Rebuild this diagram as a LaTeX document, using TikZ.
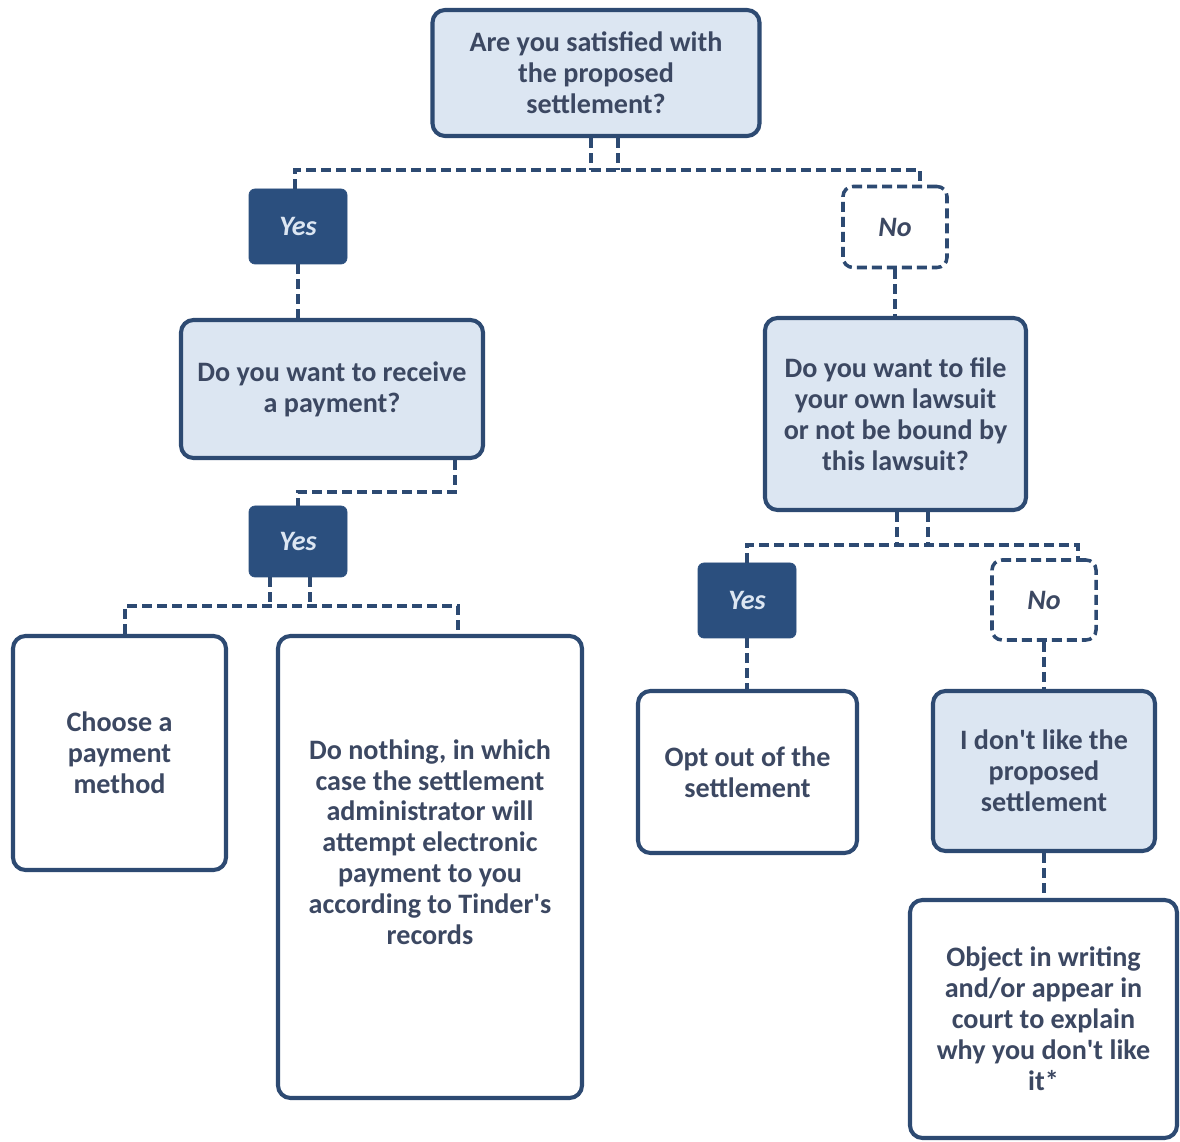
\documentclass[tikz,border=0pt]{standalone}
\usepackage{fontspec}
\setmainfont{Carlito}
\definecolor{cadre}{RGB}{45,74,114}
\definecolor{fond}{RGB}{220,230,242}
\definecolor{sombre}{RGB}{43,79,126}
\definecolor{texte}{RGB}{60,72,98}

\begin{document}
\begin{tikzpicture}
\tikzset{boite/.style={draw=cadre, line width=2.3pt, rounded corners=0.25cm, align=center, text=texte, font=\fontsize{16}{17.6}\selectfont\bfseries},
question/.style={boite, fill=fond},
reponse/.style={boite, fill=white},
oui/.style={draw=sombre, fill=sombre, rounded corners=0.12cm, text=fond, font=\fontsize{16}{17.6}\selectfont\bfseries\itshape, minimum width=1.96cm, minimum height=1.5cm},
non/.style={draw=cadre, line width=2pt, dash pattern=on 0.2cm off 0.1cm, rounded corners=0.2cm, fill=white, text=texte, font=\fontsize{16}{17.6}\selectfont\bfseries\itshape, minimum width=2.08cm, minimum height=1.62cm},
lien/.style={draw=cadre, line width=2pt, dash pattern=on 0.2cm off 0.1cm}}
\useasboundingbox (0,0) rectangle (23.6,-22.84);
\node[question, minimum width=6.54cm, minimum height=2.52cm] (Q1) at (11.92,-1.46) {Are you satisfied with\\the proposed\\settlement?};
\node[oui] (Y1) at (5.96,-4.53) {Yes};
\node[non] (N1) at (17.9,-4.54) {No};
\node[question, minimum width=6.04cm, minimum height=2.76cm] (Q2) at (6.64,-7.78) {Do you want to receive\\a payment?};
\node[oui, minimum height=1.42cm] (Y2) at (5.96,-10.83) {Yes};
\node[reponse, minimum width=4.26cm, minimum height=4.68cm] (A1) at (2.39,-15.06) {Choose a\\payment\\method};
\node[reponse, minimum width=6.08cm, minimum height=9.24cm, text depth=1cm] (A2) at (8.6,-17.34) {Do nothing, in which\\case the settlement\\administrator will\\attempt electronic\\payment to you\\according to Tinder\textquotesingle s\\records};
\node[question, minimum width=5.22cm, minimum height=3.84cm] (Q3) at (17.91,-8.28) {Do you want to file\\your own lawsuit\\or not be bound by\\this lawsuit?};
\node[oui] (Y3) at (14.94,-12.01) {Yes};
\node[non, minimum height=1.6cm] (N2) at (20.88,-12.0) {No};
\node[reponse, minimum width=4.38cm, minimum height=3.24cm] (B1) at (14.95,-15.44) {Opt out of the\\settlement};
\node[question, minimum width=4.44cm, minimum height=3.2cm] (Q4) at (20.88,-15.42) {I don\textquotesingle t like the\\proposed\\settlement};
\node[reponse, minimum width=5.34cm, minimum height=4.76cm] (B2) at (20.87,-20.38) {Object in writing\\and/or appear in\\court to explain\\why you don\textquotesingle t like\\it*};
\coordinate (H1) at (5.9,-3.4);
\coordinate (H2) at (18.4,-3.4);
\coordinate (D1) at (11.82,-3.4);
\coordinate (D2) at (12.36,-3.4);
\draw[lien] (Y1.north -| H1) -- (H1) -- (H2) -- (N1.north -| H2);
\draw[lien] (Q1.south -| D1) -- (D1);
\draw[lien] (Q1.south -| D2) -- (D2);
\draw[lien] (Y1.south) -- (Y1.south |- Q2.north);
\coordinate (E1) at (9.1,-9.84);
\draw[lien] (Q2.south -| E1) -- (E1) -- (E1 -| Y2.north) -- (Y2.north);
\coordinate (H3) at (2.5,-12.12);
\coordinate (H4) at (9.16,-12.12);
\coordinate (D3) at (5.4,-12.12);
\coordinate (D4) at (6.2,-12.12);
\draw[lien] (A1.north -| H3) -- (H3) -- (H4) -- (A2.north -| H4);
\draw[lien] (Y2.south -| D3) -- (D3);
\draw[lien] (Y2.south -| D4) -- (D4);
\draw[lien] (N1.south) -- (N1.south |- Q3.north);
\coordinate (H5) at (14.94,-10.9);
\coordinate (H6) at (21.56,-10.9);
\coordinate (D5) at (17.94,-10.9);
\coordinate (D6) at (18.56,-10.9);
\draw[lien] (Y3.north) -- (H5) -- (H6) -- (N2.north -| H6);
\draw[lien] (Q3.south -| D5) -- (D5);
\draw[lien] (Q3.south -| D6) -- (D6);
\draw[lien] (Y3.south) -- (Y3.south |- B1.north);
\draw[lien] (N2.south) -- (N2.south |- Q4.north);
\draw[lien] (Q4.south) -- (Q4.south |- B2.north);
\end{tikzpicture}
\end{document}
